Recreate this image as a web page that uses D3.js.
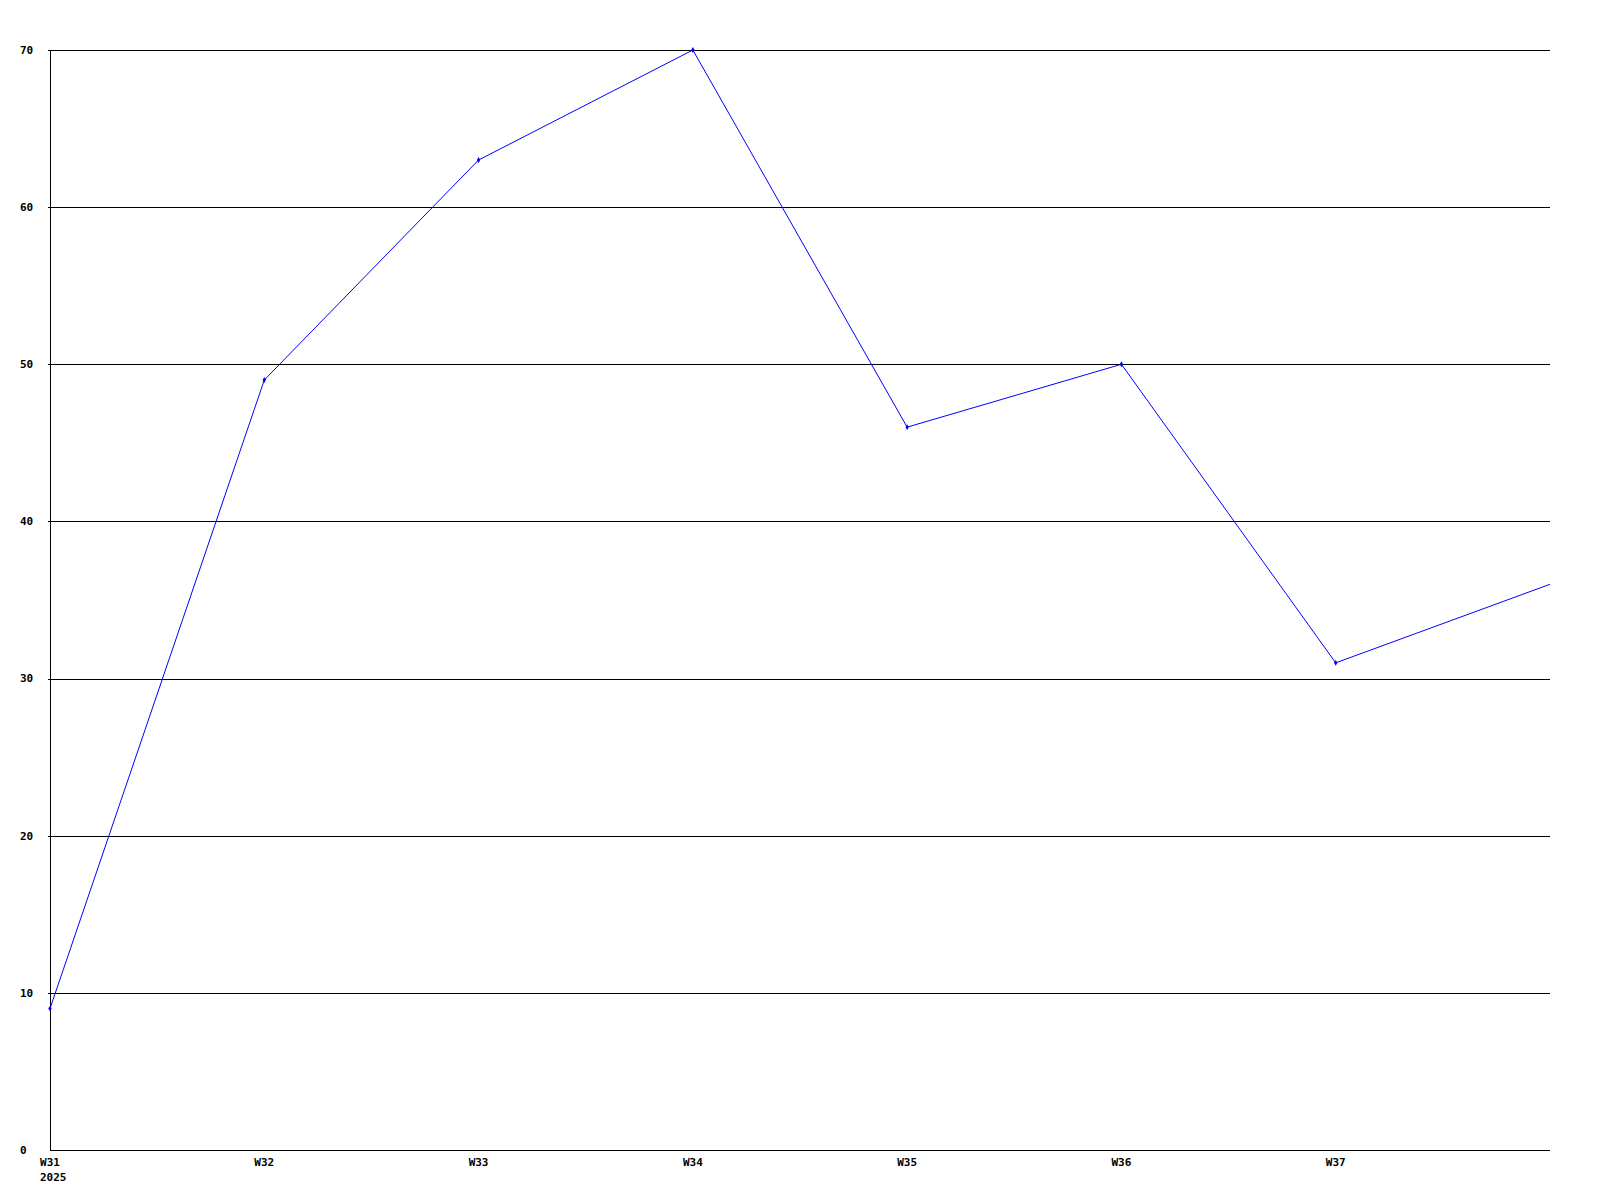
<!DOCTYPE html>
<html>
<head>
<meta charset="utf-8">
<script src="https://cdn.jsdelivr.net/npm/d3@7"></script>
<style>
html,body{margin:0;padding:0;background:#fff;}
text{font-family:"DejaVu Sans Mono",monospace;font-weight:bold;font-size:11px;fill:#000;}
</style>
</head>
<body>
<svg id="chart" width="1600" height="1200"></svg>
<script>
const categories = ["W31","W32","W33","W34","W35","W36","W37","W38"];
const shownLabels = ["W31","W32","W33","W34","W35","W36","W37"];
const values = [9, 49, 63, 70, 46, 50, 31, 36];
const yTicks = [0, 10, 20, 30, 40, 50, 60, 70];
const yearLabel = "2025";

const svg = d3.select("#chart");
const L = 50, R = 1550, T = 50, B = 1150;

const x = d3.scalePoint().domain(categories).range([L, R]);
const y = d3.scaleLinear().domain([0, 70]).range([B, T]);

// grid lines
svg.append("g").selectAll("line").data(yTicks.filter(d => d > 0)).join("line")
  .attr("x1", L - 2).attr("x2", R)
  .attr("y1", d => Math.round(y(d)) + 0.5).attr("y2", d => Math.round(y(d)) + 0.5)
  .attr("stroke", "#000").attr("stroke-width", 1).attr("shape-rendering", "crispEdges");

// axes
svg.append("line").attr("x1", L + 0.5).attr("x2", L + 0.5).attr("y1", T).attr("y2", B + 1)
  .attr("stroke", "#000").attr("shape-rendering", "crispEdges");
svg.append("line").attr("x1", L).attr("x2", R).attr("y1", B + 0.5).attr("y2", B + 0.5)
  .attr("stroke", "#000").attr("shape-rendering", "crispEdges");

// y labels
svg.append("g").selectAll("text").data(yTicks).join("text")
  .attr("x", 20).attr("y", d => y(d)).attr("dy", "0.35em")
  .text(d => d);

// x labels
svg.append("g").selectAll("text").data(shownLabels).join("text")
  .attr("x", d => x(d)).attr("y", 1166).attr("text-anchor", "middle")
  .text(d => d);
svg.append("text").attr("x", x(categories[0]) - 10).attr("y", 1181).text(yearLabel);

// line
const data = categories.map((c, i) => ({c, v: values[i]}));
svg.append("path").datum(data)
  .attr("fill", "none").attr("stroke", "#0000ff").attr("stroke-width", 1)
  .attr("d", d3.line().x(d => x(d.c)).y(d => y(d.v)));

// markers
svg.append("g").selectAll("path").data(data.slice(0, 7)).join("path")
  .attr("d", d3.symbol().type(d3.symbolDiamond).size(10))
  .attr("transform", d => `translate(${x(d.c)},${y(d.v)})`)
  .attr("fill", "#0000ff");
</script>
</body>
</html>
